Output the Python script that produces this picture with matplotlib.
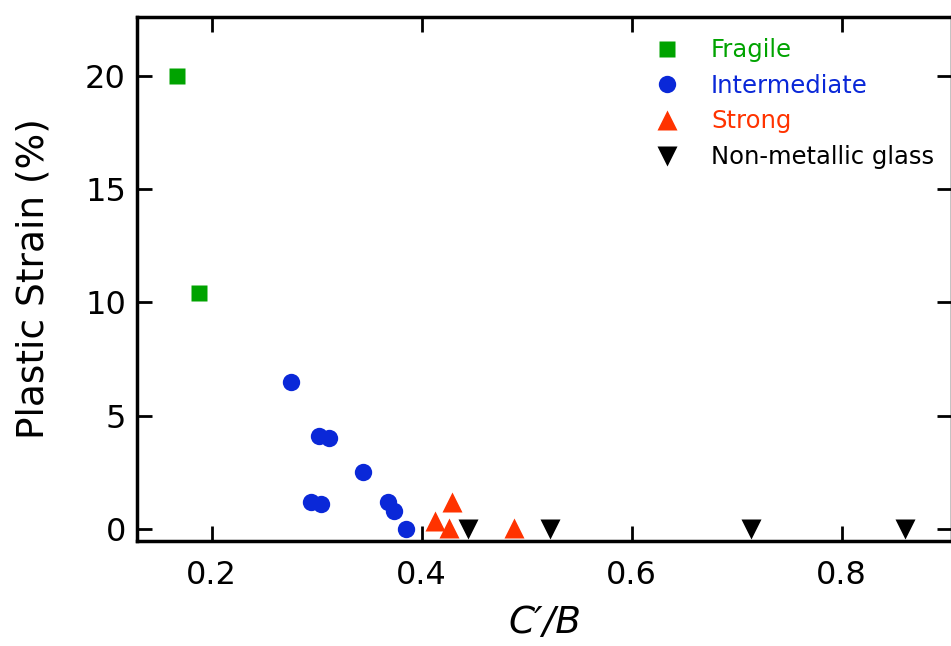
import matplotlib.pyplot as plt

plt.rcParams['font.family'] = ['DejaVu Sans']

# data
fragile_x = [0.167, 0.188]
fragile_y = [20.0, 10.4]

inter_x = [0.276, 0.302, 0.312, 0.344, 0.295, 0.304, 0.368, 0.374, 0.385]
inter_y = [6.5, 4.1, 4.0, 2.5, 1.2, 1.1, 1.2, 0.8, 0.0]

strong_x = [0.413, 0.429, 0.426, 0.488]
strong_y = [0.35, 1.2, 0.05, 0.05]

glass_x = [0.444, 0.522, 0.714, 0.860]
glass_y = [0.0, 0.0, 0.0, 0.0]

x_ticks = [0.2, 0.4, 0.6, 0.8]
y_ticks = [0, 5, 10, 15, 20]

green = '#00a300'
blue = '#0a28d8'
red = '#ff3300'

fig = plt.figure(figsize=(9.51, 6.46), dpi=100)
ax = fig.add_axes([137 / 951, 1 - 540.7 / 646, 815 / 951, (540.7 - 16.7) / 646])

ax.plot(fragile_x, fragile_y, 's', color=green, ms=12, mec='none', label='Fragile')
ax.plot(inter_x, inter_y, 'o', color=blue, ms=12.5, mec='none', label='Intermediate')
ax.plot(strong_x, strong_y, '^', color=red, ms=14, mec='none', label='Strong')
ax.plot(glass_x, glass_y, 'v', color='black', ms=14, mec='none', label='Non-metallic glass')

ax.set_xlim(0.129, 0.905)
ax.set_ylim(-0.52, 22.6)
ax.set_xticks(x_ticks)
ax.set_xticklabels(['0.2', '0.4', '0.6', '0.8'])
ax.set_yticks(y_ticks)

for s in ax.spines.values():
    s.set_linewidth(2.5)
ax.tick_params(direction='in', length=11, width=2, labelsize=23,
               top=True, right=True)
ax.tick_params(axis='x', pad=14)
ax.tick_params(axis='y', pad=8)

ax.set_ylabel('Plastic Strain (%)', fontsize=27, labelpad=24)
ax.set_xlabel("C\u2032/B", fontsize=27, style='italic', labelpad=10)

leg = ax.legend(loc='upper left', bbox_to_anchor=(0.690, 0.941),
                bbox_transform=fig.transFigure, frameon=False, fontsize=17.5,
                handlelength=0.9, handletextpad=1.35, labelspacing=0.48,
                borderpad=0, borderaxespad=0, numpoints=1)
for t, c in zip(leg.get_texts(), [green, blue, red, 'black']):
    t.set_color(c)

fig.savefig('out.png', dpi=100)
